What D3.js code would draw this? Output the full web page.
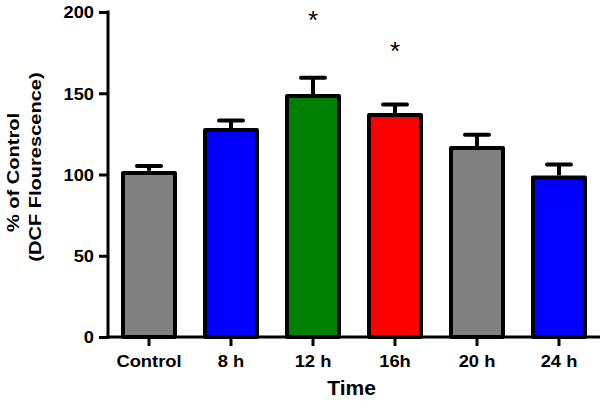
<!DOCTYPE html>
<html>
<head>
<meta charset="utf-8">
<script src="https://cdn.jsdelivr.net/npm/d3@7"></script>
<style>
  html, body { margin: 0; padding: 0; background: #fff; }
  svg { display: block; }
  text { font-family: "Liberation Sans", Arial, Helvetica, sans-serif; }
</style>
</head>
<body>
<svg id="chart" width="600" height="401"></svg>
<script>
const categories = ["Control", "8 h", "12 h", "16h", "20 h", "24 h"];
const values = [101, 127.4, 148.3, 136.6, 116.3, 98.2];
const errors = [4.2, 5.8, 11.2, 6.5, 8.2, 8.0];
const colors = ["#808080", "#0000ff", "#008000", "#ff0000", "#808080", "#0000ff"];
const stars = [null, null, 199, 180, null, null];
const yTicks = [0, 50, 100, 150, 200];

const svg = d3.select("#chart");
const x = d3.scaleBand().domain(categories).range([108, 600]).padding(0);
const y = d3.scaleLinear().domain([0, 200]).range([337, 12]);
const barW = x.bandwidth() * 0.634;

// bars
svg.append("g").selectAll("rect").data(categories).join("rect")
  .attr("x", d => x(d) + x.bandwidth() / 2 - barW / 2)
  .attr("y", (d, i) => y(values[i]))
  .attr("width", barW)
  .attr("height", (d, i) => y(0) - y(values[i]))
  .attr("fill", (d, i) => colors[i])
  .attr("stroke", "#000")
  .attr("stroke-width", 4)
  .attr("stroke-linejoin", "round");

// error bars
const eg = svg.append("g").attr("stroke", "#000").attr("stroke-width", 4);
categories.forEach((c, i) => {
  const cx = x(c) + x.bandwidth() / 2;
  eg.append("line").attr("x1", cx).attr("x2", cx)
    .attr("y1", y(values[i]) - 2).attr("y2", y(values[i] + errors[i]));
  eg.append("line").attr("x1", cx - 12).attr("x2", cx + 12)
    .attr("y1", y(values[i] + errors[i])).attr("y2", y(values[i] + errors[i]))
    .attr("stroke-linecap", "round");
});

// stars
categories.forEach((c, i) => {
  if (stars[i] == null) return;
  svg.append("text")
    .attr("x", x(c) + x.bandwidth() / 2)
    .attr("y", y(stars[i]) + 15)
    .attr("text-anchor", "middle")
    .attr("font-size", 26)
    .attr("fill", "#000")
    .text("*");
});

// y axis
const yAxis = d3.axisLeft(y).tickValues(yTicks).tickSize(9).tickPadding(5).tickSizeOuter(0);
const gy = svg.append("g").attr("transform", "translate(108,0)").call(yAxis);
gy.select(".domain").attr("stroke-width", 3).attr("d", `M0,${y(200) - 1.5}V${y(0) + 1.5}`);
gy.selectAll(".tick line").attr("stroke-width", 3);
gy.selectAll(".tick text")
  .attr("font-size", 16).attr("font-weight", "bold").attr("fill", "#000")
  .attr("font-family", "'Liberation Sans', Arial, sans-serif")
  .attr("dy", "0.36em")
  .each(function() {
    const t = d3.select(this);
    const xx = -14;
    t.attr("x", 0).attr("transform", `translate(${xx},0) scale(1.14,1)`);
  });

// x axis
const xAxis = d3.axisBottom(x).tickSize(9).tickPadding(12).tickSizeOuter(0);
const gx = svg.append("g").attr("transform", "translate(0,337)").call(xAxis);
gx.select(".domain").attr("stroke-width", 3).attr("d", `M106.5,0H600`);
gx.selectAll(".tick line").attr("stroke-width", 3);
gx.selectAll(".tick text")
  .attr("font-size", 17).attr("font-weight", "bold").attr("fill", "#000")
  .attr("font-family", "'Liberation Sans', Arial, sans-serif")
  .attr("y", 0).attr("dy", 0)
  .attr("transform", "translate(0,30) scale(1.08,1)")
  .attr("x", 0);
// scale about tick center: tick groups translate to center already

// axis titles
svg.append("text")
  .attr("transform", "translate(351.5,395) scale(1.05,1)")
  .attr("text-anchor", "middle")
  .attr("font-size", 20).attr("font-weight", "bold")
  .text("Time");

svg.append("text")
  .attr("transform", "translate(18.5,172.5) rotate(-90) scale(1.18,1)")
  .attr("text-anchor", "middle")
  .attr("font-size", 17).attr("font-weight", "bold")
  .text("% of Control");

svg.append("text")
  .attr("transform", "translate(40.5,167) rotate(-90) scale(1.18,1)")
  .attr("text-anchor", "middle")
  .attr("font-size", 17).attr("font-weight", "bold")
  .text("(DCF Flourescence)");
</script>
</body>
</html>
